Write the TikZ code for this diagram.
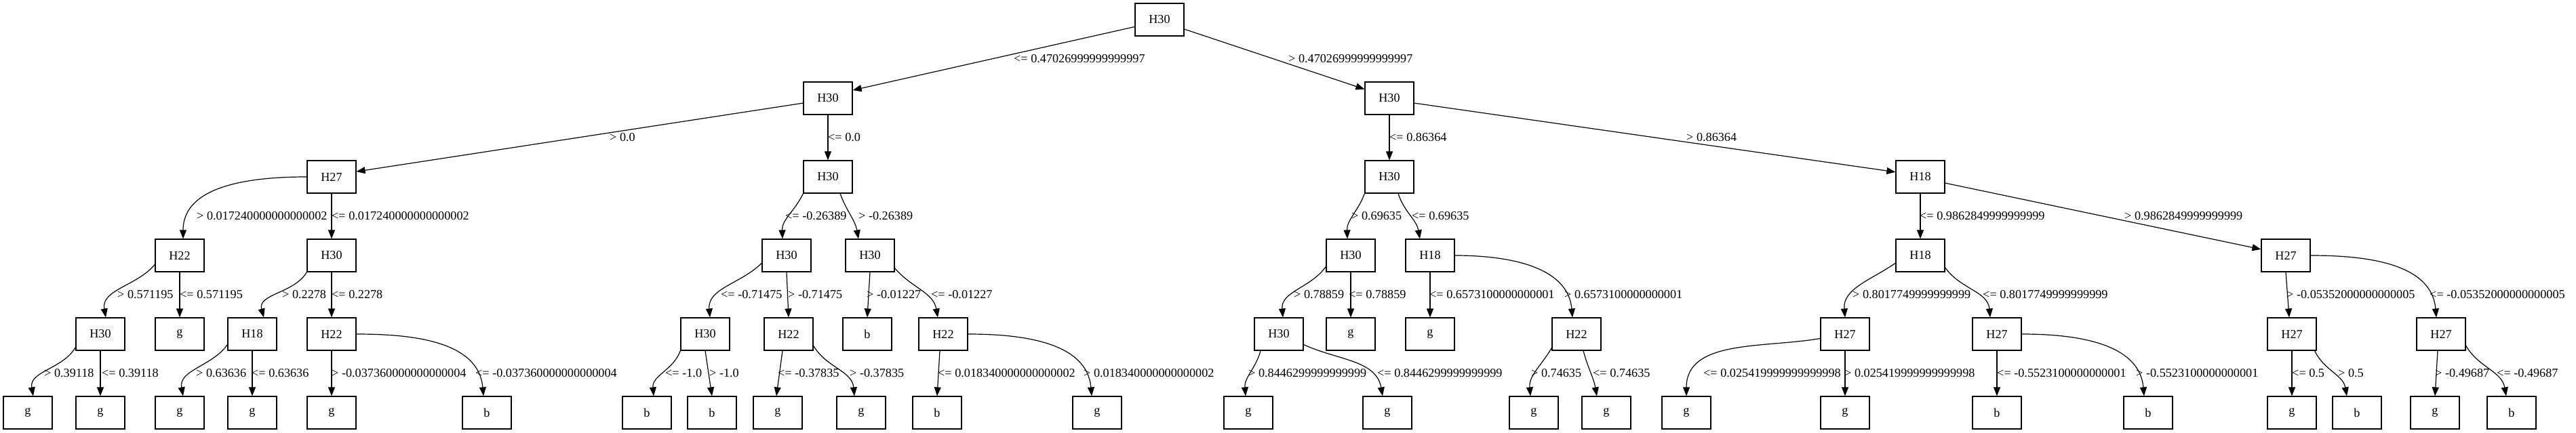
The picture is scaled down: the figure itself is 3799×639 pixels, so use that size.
\documentclass[tikz,border=0pt]{standalone}
\usepackage{fontspec}
\setmainfont{Liberation Serif}
\usetikzlibrary{arrows.meta}
\begin{document}
\begin{tikzpicture}[x=1pt,y=1pt,
  font=\fontsize{18.2}{22}\selectfont,
  box/.style={draw, line width=1.2pt, minimum width=72pt, minimum height=48pt, inner sep=0pt},
  e/.style={line width=1.2pt, -{Triangle[length=13pt,width=10pt]}},
  lab/.style={anchor=west, inner sep=0pt}]
\useasboundingbox (0,0) rectangle (3799,-639);
% level 0
\node[box] (r) at (1710,-29) {H30};
% level 1
\node[box] (a) at (1221,-145) {H30};
\node[box] (n) at (2049,-145) {H30};
% level 2
\node[box] (b) at (489,-261) {H27};
\node[box] (h) at (1221,-261) {H30};
\node[box] (o) at (2049,-261) {H30};
\node[box] (t) at (2832,-261) {H18};
% level 3
\node[box] (c) at (265,-377) {H22};
\node[box] (e) at (489,-377) {H30};
\node[box] (i) at (1160,-377) {H30};
\node[box] (l) at (1283,-377) {H30};
\node[box] (p) at (1992,-377) {H30};
\node[box] (rr) at (2109,-377) {H18};
\node[box] (u) at (2832,-377) {H18};
\node[box] (xx) at (3371,-377) {H27};
% level 4
\node[box] (d) at (148,-493) {H30};
\node[box] (cg) at (265,-493) {g};
\node[box] (f) at (372,-493) {H18};
\node[box] (g) at (489,-493) {H22};
\node[box] (j) at (1040,-493) {H30};
\node[box] (k) at (1163,-493) {H22};
\node[box] (lb) at (1279,-493) {b};
\node[box] (m) at (1391,-493) {H22};
\node[box] (q) at (1886,-493) {H30};
\node[box] (pg) at (1992,-493) {g};
\node[box] (rg) at (2109,-493) {g};
\node[box] (s) at (2325,-493) {H22};
\node[box] (v) at (2721,-493) {H27};
\node[box] (w) at (2945,-493) {H27};
\node[box] (yy) at (3380,-493) {H27};
\node[box] (zz) at (3600,-493) {H27};
% level 5
\node[box] (d1) at (41,-609) {g};
\node[box] (d2) at (148,-609) {g};
\node[box] (f1) at (265,-609) {g};
\node[box] (f2) at (372,-609) {g};
\node[box] (g1) at (489,-609) {g};
\node[box] (g2) at (718,-609) {b};
\node[box] (j1) at (954,-609) {b};
\node[box] (j2) at (1050,-609) {b};
\node[box] (k1) at (1147,-609) {g};
\node[box] (k2) at (1270,-609) {g};
\node[box] (m1) at (1382,-609) {b};
\node[box] (m2) at (1618,-609) {g};
\node[box] (q1) at (1841,-609) {g};
\node[box] (q2) at (2046,-609) {g};
\node[box] (s1) at (2262,-609) {g};
\node[box] (s2) at (2369,-609) {g};
\node[box] (v1) at (2487,-609) {g};
\node[box] (v2) at (2721,-609) {g};
\node[box] (w1) at (2945,-609) {b};
\node[box] (w2) at (3168,-609) {b};
\node[box] (y1) at (3380,-609) {g};
\node[box] (y2) at (3476,-609) {b};
\node[box] (z1) at (3591,-609) {g};
\node[box] (z2) at (3704,-609) {b};
% edges
\draw[e] (r.196) -- (a.18);
\draw[e] (r.339) -- (n.160);
\draw[e] (a.191) -- (b.12);
\draw[e] (a.south) -- (h.north);
\draw[e] (n.south) -- (o.north);
\draw[e] (n.349) -- (t.169);
\draw[e] (b.west) to[out=180,in=90] ([xshift=5pt]c.north);
\draw[e] (b.south) -- (e.north);
\draw[e] (h.south west) to[out=245,in=92] ([xshift=-6pt]i.north);
\draw[e] ([xshift=18pt]h.south) to[out=-70,in=100] ([xshift=-17pt]l.north);
\draw[e] (o.south west) to[out=250,in=92] ([xshift=-5pt]p.north);
\draw[e] ([xshift=13pt]o.south) to[out=-72,in=100] ([xshift=-15pt]rr.north);
\draw[e] (t.south) -- (u.north);
\draw[e] (t.346) -- (xx.166);
\draw[e] (c.200) to[out=230,in=100] ([xshift=8pt]d.north);
\draw[e] (c.south) -- (cg.north);
\draw[e] (e.south west) to[out=240,in=105] ([xshift=17pt]f.north);
\draw[e] (e.south) -- (g.north);
\draw[e] (i.197) to[out=225,in=95] ([xshift=7pt]j.north);
\draw[e] (i.south) -- (k.north);
\draw[e] (l.south) -- (lb.north);
\draw[e] (l.333) to[out=-50,in=100] ([xshift=-8pt]m.north);
\draw[e] (p.204) to[out=235,in=95] ([xshift=6pt]q.north);
\draw[e] (p.south) -- (pg.north);
\draw[e] (rr.south) -- (rg.north);
\draw[e] (rr.east) to[out=0,in=95] ([xshift=-6pt]s.north);
\draw[e] (u.197) to[out=215,in=95] (v.north);
\draw[e] (u.334) to[out=-55,in=95] ([xshift=-10pt]w.north);
\draw[e] (xx.south) -- ([xshift=-4pt]yy.north);
\draw[e] (xx.east) to[out=0,in=95] ([xshift=-7pt]zz.north);
\draw[e] (d.208) to[out=240,in=100] ([xshift=8pt]d1.north);
\draw[e] (d.south) -- (d2.north);
\draw[e] (f.203) to[out=235,in=100] ([xshift=5pt]f1.north);
\draw[e] (f.south) -- (f2.north);
\draw[e] (g.south) -- (g1.north);
\draw[e] (g.east) to[out=0,in=95] ([xshift=-5pt]g2.north);
\draw[e] (j.south west) to[out=250,in=95] ([xshift=10pt]j1.north);
\draw[e] (j.south) -- (j2.north);
\draw[e] ([xshift=-9pt]k.south) -- ([xshift=-2pt]k1.north);
\draw[e] (k.335) to[out=-60,in=95] ([xshift=-10pt]k2.north);
\draw[e] ([xshift=-5pt]m.south) -- (m1.north);
\draw[e] (m.east) to[out=0,in=95] ([xshift=-8pt]m2.north);
\draw[e] ([xshift=-27pt]q.south) to[out=255,in=95] ([xshift=-4pt]q1.north);
\draw[e] (q.337) to[out=-25,in=100] ([xshift=-7pt]q2.north);
\draw[e] (s.209) to[out=240,in=95] ([xshift=-5pt]s1.north);
\draw[e] ([xshift=10pt]s.south) to[out=-75,in=100] ([xshift=-14pt]s2.north);
\draw[e] (v.190) to[out=190,in=90] (v1.north);
\draw[e] (v.south) -- (v2.north);
\draw[e] (w.south) -- (w1.north);
\draw[e] (w.east) to[out=0,in=95] ([xshift=-6pt]w2.north);
\draw[e] (yy.south) -- (y1.north);
\draw[e] ([xshift=-3pt]yy.south east) to[out=-65,in=100] ([xshift=-15pt]y2.north);
\draw[e] ([xshift=-5pt]zz.south) -- (z1.north);
\draw[e] (zz.335) to[out=-60,in=100] ([xshift=-8pt]z2.north);
% labels row 0-1
\node[lab] (t01) at (1495,-87) {<= 0.47026999999999997};
\node[lab] (t02) at (1900,-87) {> 0.47026999999999997};
% row 1-2
\node[lab] (t11) at (899,-203) {> 0.0};
\node[lab] (t12) at (1221,-203) {<= 0.0};
\node[lab] (t13) at (2049,-203) {<= 0.86364};
\node[lab] (t14) at (2487,-203) {> 0.86364};
% row 2-3
\node[lab] (t21) at (290,-319) {> 0.017240000000000002};
\node[lab] (t22) at (489,-319) {<= 0.017240000000000002};
\node[lab] (t23) at (1158,-319) {<= -0.26389};
\node[lab] (t24) at (1266,-319) {> -0.26389};
\node[lab] (t25) at (1993,-319) {> 0.69635};
\node[lab] (t26) at (2082,-319) {<= 0.69635};
\node[lab] (t27) at (2831,-319) {<= 0.9862849999999999};
\node[lab] (t28) at (3133,-319) {> 0.9862849999999999};
% row 3-4
\node[lab] (t31) at (173,-435) {> 0.571195};
\node[lab] (t32) at (265,-435) {<= 0.571195};
\node[lab] (t33) at (416,-435) {> 0.2278};
\node[lab] (t34) at (489,-435) {<= 0.2278};
\node[lab] (t35) at (1063,-435) {<= -0.71475};
\node[lab] (t36) at (1162,-435) {> -0.71475};
\node[lab] (t37) at (1278,-435) {> -0.01227};
\node[lab] (t38) at (1373,-435) {<= -0.01227};
\node[lab] (t39) at (1908,-435) {> 0.78859};
\node[lab] (t3a) at (1989,-435) {<= 0.78859};
\node[lab] (t3b) at (2108,-435) {<= 0.6573100000000001};
\node[lab] (t3c) at (2307,-435) {> 0.6573100000000001};
\node[lab] (t3d) at (2732,-435) {> 0.8017749999999999};
\node[lab] (t3e) at (2924,-435) {<= 0.8017749999999999};
\node[lab] (t3f) at (3372,-435) {> -0.05352000000000005};
\node[lab] (t3g) at (3583,-435) {<= -0.05352000000000005};
% row 4-5
\node[lab] (t41) at (65,-551) {> 0.39118};
\node[lab] (t42) at (150,-551) {<= 0.39118};
\node[lab] (t43) at (289,-551) {> 0.63636};
\node[lab] (t44) at (371,-551) {<= 0.63636};
\node[lab] (t45) at (489,-551) {> -0.037360000000000004};
\node[lab] (t46) at (701,-551) {<= -0.037360000000000004};
\node[lab] (t47) at (981,-551) {<= -1.0};
\node[lab] (t48) at (1046,-551) {> -1.0};
\node[lab] (t49) at (1147,-551) {<= -0.37835};
\node[lab] (t4a) at (1253,-551) {> -0.37835};
\node[lab] (t4b) at (1383,-551) {<= 0.018340000000000002};
\node[lab] (t4c) at (1598,-551) {> 0.018340000000000002};
\node[lab] (t4d) at (1841,-551) {> 0.8446299999999999};
\node[lab] (t4e) at (2031,-551) {<= 0.8446299999999999};
\node[lab] (t4f) at (2258,-551) {> 0.74635};
\node[lab] (t4g) at (2349,-551) {<= 0.74635};
\node[lab] (t4h) at (2512,-551) {<= 0.025419999999999998};
\node[lab] (t4i) at (2720,-551) {> 0.025419999999999998};
\node[lab] (t4j) at (2945,-551) {<= -0.5523100000000001};
\node[lab] (t4k) at (3150,-551) {> -0.5523100000000001};
\node[lab] (t4l) at (3380,-551) {<= 0.5};
\node[lab] (t4m) at (3448,-551) {> 0.5};
\node[lab] (t4n) at (3591,-551) {> -0.49687};
\node[lab] (t4o) at (3682,-551) {<= -0.49687};
\end{tikzpicture}
\end{document}
